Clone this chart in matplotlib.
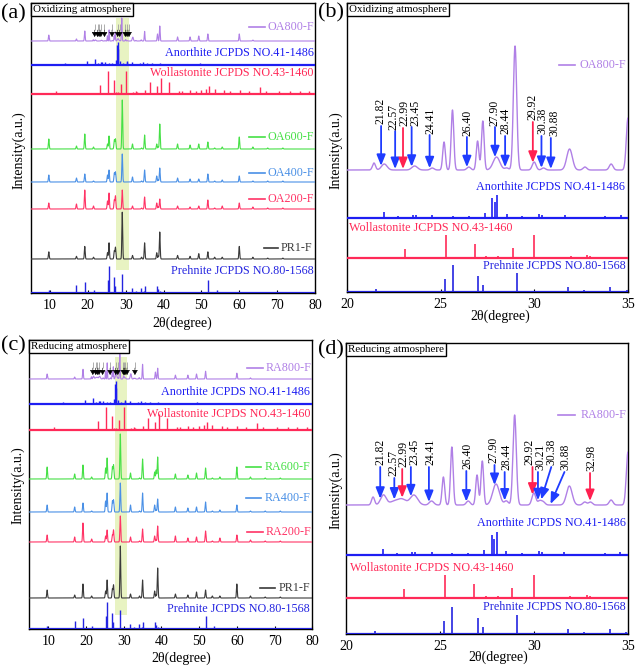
import numpy as np
import matplotlib
matplotlib.use('Agg')
import matplotlib.pyplot as plt

plt.rcParams['font.family'] = ['Liberation Serif', 'DejaVu Serif']

# ---------------- data ----------------
# reference stick patterns (2theta, height)
ANORTHITE_POS = [13.9, 19.7, 21.98, 22.72, 23.52, 23.66, 24.55, 25.66, 26.5, 27.35, 27.76, 27.89, 28.03,
                 28.53, 29.36, 30.25, 30.43, 31.62, 33.76, 34.6, 35.7, 36.9, 39.0, 42.0, 44.0, 46.0, 49.5, 53.0]
ANORTHITE_INT = [2, 4, 6, 2, 3.5, 3, 3.5, 2, 2, 5, 20, 16, 23, 4, 2, 4.5, 3, 3, 2, 3, 2, 2, 2, 1.5, 1.5, 1.5, 2, 1]

WOLLASTONITE_POS = [11.6, 23.11, 25.27, 26.82, 27.44, 28.08, 28.85, 29.38, 29.98, 31.94, 32.83, 32.96, 35.2,
                    36.4, 38.4, 39.3, 41.5, 44.0, 45.0, 47.0, 48.5, 50.0, 51.3, 52.1, 53.5, 56.0, 57.5, 60.1,
                    62.5, 65.4, 67.0, 70.6, 73.5, 76.0, 78.5]
WOLLASTONITE_INT = [3, 9, 23, 14, 2, 2, 10, 1, 23, 2, 3, 2, 4, 12, 8, 16, 12, 3, 3, 4, 3, 4, 5, 8, 5, 4, 3,
                    4, 3, 7, 3, 3, 3, 3, 3]

PREHNITE_POS = [9.7, 17.0, 19.2, 21.56, 25.21, 25.66, 27.0, 27.27, 29.09, 31.8, 32.64, 34.06, 34.92, 35.1,
                38.2, 38.5, 39.0, 43.7, 47.0, 51.7, 54.0, 56.5, 60.0, 64.0, 68.0, 70.0, 73.0]
PREHNITE_INT = [3, 8, 11, 3.3, 13, 27, 15.7, 6.7, 19, 5, 1.7, 5, 1.7, 7, 7, 4, 2, 1, 1.5, 13, 3, 1, 1, 1,
                1.5, 1, 1]

# measured patterns, common peak positions
SAMPLE_POS = [9.7, 17.0, 19.2, 21.5, 25.2, 25.6, 27.0, 27.3, 29.1, 31.8, 34.2, 35.0, 38.2, 38.6, 39.0,
              43.7, 47.0, 49.3, 51.7, 53.5, 55.5, 60.0, 63.6, 67.5, 71.5]
PR1_INT = [8, 3, 14, 2, 7, 18, 9, 13, 52, 4, 2, 18, 7, 3, 30, 4, 3, 6, 8, 2, 2, 14, 2, 1, 1]
OA200_INT = [6, 5, 19, 3, 8, 16, 9, 13, 19, 3, 1, 12, 6, 2, 10, 3, 2, 3, 9, 1, 3, 6, 2, 1, 1]
OA400_INT = [7, 4, 8, 1, 7, 12, 9, 10, 28, 5, 1, 12, 6, 2, 14, 4, 3, 3, 8, 1, 2, 6, 1, 1, 1]
OA600_INT = [10, 3, 15, 2, 5, 13, 9, 10, 49, 5, 1, 14, 5, 2, 25, 5, 4, 5, 7, 1, 2, 12, 2, 1, 1]
RA200_INT = [7, 5, 19, 3, 6, 12, 7, 12, 26, 5, 1, 13, 6, 2, 16, 6, 4, 5, 11, 1, 4, 7, 2, 1, 1]
RA400_INT = [7, 5, 9, 1, 11, 19, 11, 12, 29, 7, 1, 19, 7, 2, 13, 5, 4, 5, 10, 1, 2, 7, 1, 1, 1]
RA600_INT = [12, 5, 14, 2, 11, 21, 12, 14, 45, 6, 1, 20, 7, 9, 22, 5, 4, 6, 11, 1, 2, 12, 2, 1, 1]

# 800 °C samples (heights on the zoomed-panel scale)
OA800_POS = [9.7, 17.0, 19.2, 21.44, 21.99, 23.61, 24.55, 25.18, 25.63, 26.5, 26.97, 27.25, 27.98, 28.53,
             28.97, 29.99, 30.49, 31.88, 32.7, 34.1, 35.0, 38.4, 39.0, 43.7, 47.0, 49.3, 51.7, 60.0, 63.6]
OA800_INT = [32, 11, 54, 7, 6, 4, 2, 28, 60, 3, 29, 49, 13, 2, 124, 8, 2, 21, 3, 6, 52, 38, 81, 22, 22,
             27, 38, 38, 5]
OA800_WID = [0.1, 0.1, 0.1, 0.08, 0.15, 0.15, 0.1, 0.07, 0.07, 0.1, 0.07, 0.07, 0.18, 0.1, 0.09, 0.1,
             0.1, 0.15, 0.1, 0.1, 0.09, 0.1, 0.1, 0.1, 0.1, 0.1, 0.1, 0.1, 0.1]

RA800_POS = [9.7, 17.0, 19.2, 21.44, 21.99, 22.6, 23.0, 23.61, 24.55, 25.18, 25.63, 26.5, 26.97, 27.25,
             27.98, 28.53, 28.97, 29.99, 30.3, 30.49, 31.88, 32.7, 33.0, 34.1, 35.0, 38.4, 39.0, 43.7,
             47.0, 49.3, 51.7, 60.0, 63.6]
RA800_INT = [18, 7, 35, 8, 10, 4, 5, 10, 4, 28, 58, 4, 30, 44, 21, 4, 90, 12, 4, 3, 19, 3, 3, 5, 53, 25,
             39, 14, 14, 18, 28, 21, 4]
RA800_WID = [0.1, 0.1, 0.1, 0.08, 0.15, 0.25, 0.2, 0.2, 0.12, 0.07, 0.07, 0.1, 0.07, 0.07, 0.18, 0.1,
             0.09, 0.1, 0.1, 0.1, 0.15, 0.1, 0.1, 0.1, 0.09, 0.1, 0.1, 0.1, 0.1, 0.1, 0.1, 0.1, 0.1]

# arrow annotations (A = anorthite, W = wollastonite)
OX_ARROW_POS = [21.82, 22.57, 22.99, 23.45, 24.41, 26.40, 27.90, 28.44, 29.92, 30.38, 30.88]
OX_ARROW_PHASE = ['A', 'A', 'W', 'A', 'A', 'A', 'A', 'A', 'W', 'A', 'A']
OX_ARROW_TAIL = [44, 39, 42, 43, 35, 33, 43, 34, 48, 34, 32]
OX_ARROW_TAILX = [21.82, 22.57, 22.99, 23.45, 24.41, 26.40, 27.90, 28.44, 29.92, 30.38, 30.88]
OX_LABEL_X = [21.80, 22.50, 23.06, 23.63, 24.48, 26.42, 27.88, 28.48, 29.92, 30.45, 31.05]

RD_ARROW_POS = [21.82, 22.57, 22.99, 23.45, 24.41, 26.40, 27.90, 28.44, 29.92, 30.21, 30.38, 30.88, 32.98]
RD_ARROW_PHASE = ['A', 'A', 'W', 'A', 'A', 'A', 'A', 'A', 'W', 'A', 'A', 'A', 'W']
RD_ARROW_TAIL = [38, 27, 36, 38, 38, 34, 40, 33, 38, 33, 38, 33, 32]
RD_ARROW_TAILX = [21.82, 22.57, 22.99, 23.45, 24.41, 26.40, 27.90, 28.44, 29.92, 30.21, 30.92, 31.62, 32.98]
RD_LABEL_X = [21.84, 22.52, 23.07, 23.64, 24.50, 26.45, 27.86, 28.52, 29.76, 30.33, 30.90, 31.66, 33.06]

# ---------------- styles ----------------
C_800 = '#b080e6'
C_AN = '#1e1ef2'
C_WO = '#ff2a58'
C_600 = '#46e046'
C_400 = '#4a90e6'
C_200 = '#ff3466'
C_PR1 = '#3a3a3a'
C_PRE = '#2424e0'
C_BAND = '#e8f3c2'
ARROW_C = {'A': '#1f3cff', 'W': '#ff2050'}

W, H = 638, 667
fig = plt.figure(figsize=(W / 100, H / 100), dpi=100)


def rect(l, t, r, b):
    return [l / W, 1 - b / H, (r - l) / W, (b - t) / H]


X = np.arange(5, 80.0001, 0.005)


def profile(pos, hts, wid=None, scale=1.0):
    y = np.zeros_like(X)
    if wid is None:
        wid = [0.11] * len(pos)
    for p, h, w in zip(pos, hts, wid):
        y += h * scale * np.exp(-0.5 * ((X - p) / w) ** 2)
    return y


def trace(ax, pos, hts, base, color, wid=None, scale=1.0, lw=0.8):
    y = profile(pos, hts, wid, scale)
    ax.plot(X, y + base, color=color, lw=lw, zorder=3)
    return y


def sticks(ax, pos, hts, base, color, xlim, lw=1.0):
    p = np.array(pos)
    h = np.array(hts, dtype=float)
    m = (p >= xlim[0]) & (p <= xlim[1])
    ax.plot(xlim, [base, base], color=color, lw=1.6, zorder=3)
    ax.vlines(p[m], base, base + h[m], color=color, lw=lw, zorder=3)


def frame(ax, xlim, ylim, ticks):
    ax.set_xlim(*xlim)
    ax.set_ylim(*ylim)
    ax.set_yticks([])
    ax.set_xticks(ticks)
    ax.tick_params(axis='x', direction='in', length=2.5, width=0.8, labelsize=10, pad=4)
    for s in ax.spines.values():
        s.set_linewidth(1.0)


def title_box(ax, txt):
    ax.text(0.006, 0.993, txt, transform=ax.transAxes, ha='left', va='top', fontsize=7.9,
            zorder=10, bbox=dict(boxstyle='square,pad=0.18', fc='white', ec='black', lw=1.0))


def leg_line(ax, x0, x1, xt, y, color, text):
    ax.plot([x0, x1], [y, y], color=color, lw=1.2, zorder=4)
    ax.text(xt, y, text, color=color, fontsize=8.7, ha='left', va='center', zorder=5)


def small_arrows(ax, pos, base):
    p = np.array(pos)
    ax.vlines(p, base + 11, base + 17, color='#a0a0a0', lw=0.6, zorder=5)
    for x in pos:
        ax.annotate('', xy=(x, base + 4), xytext=(x, base + 11),
                    arrowprops=dict(arrowstyle='-|>,head_width=0.35,head_length=0.6', color='black',
                                    lw=0.4, shrinkA=0, shrinkB=0, mutation_scale=5), zorder=6)


def big_arrows(ax, pos, tailx, tails, labx, phases, base, prof):
    for p, tx, t, lx, ph in zip(pos, tailx, tails, labx, phases):
        tip = np.interp(p, X, prof) + 1.0
        ax.annotate('', xy=(p, base + tip), xytext=(tx, base + t),
                    arrowprops=dict(arrowstyle='-|>,head_width=0.22,head_length=0.55',
                                    color=ARROW_C[ph], lw=1.3, shrinkA=0, shrinkB=0,
                                    mutation_scale=12), zorder=6)
        ax.text(lx, base + t + 1.5, f'{p:.2f}', rotation=90, fontsize=8.4, ha='center',
                va='bottom', zorder=6)


# ---------------- panel (a) ----------------
axa = fig.add_axes(rect(31, 3, 315, 293))
XL = (5, 80)
frame(axa, XL, (0, 290), [10, 20, 30, 40, 50, 60, 70, 80])
axa.axvspan(27.43, 30.87, ymin=0.079, ymax=0.948, color=C_BAND, lw=0, zorder=0)
sticks(axa, PREHNITE_POS, PREHNITE_INT, 0, C_PRE, XL)
trace(axa, SAMPLE_POS, PR1_INT, 34, C_PR1, scale=0.9)
trace(axa, SAMPLE_POS, OA200_INT, 84, C_200)
trace(axa, SAMPLE_POS, OA400_INT, 111, C_400)
trace(axa, SAMPLE_POS, OA600_INT, 144, C_600)
sticks(axa, WOLLASTONITE_POS, WOLLASTONITE_INT, 199, C_WO, XL)
sticks(axa, ANORTHITE_POS, ANORTHITE_INT, 228, C_AN, XL)
trace(axa, OA800_POS, OA800_INT, 252, C_800, OA800_WID, scale=1 / 5.4)
small_arrows(axa, OX_ARROW_POS, 252)
title_box(axa, 'Oxidizing atmosphere')
leg_line(axa, 62.6, 66.8, 67.5, 266, C_800, 'OA800-F')
axa.text(79.6, 240, 'Anorthite JCPDS NO.41-1486', color=C_AN, fontsize=8.7, ha='right', va='center')
axa.text(79.6, 220, 'Wollastonite JCPDS NO.43-1460', color=C_WO, fontsize=8.7, ha='right', va='center')
leg_line(axa, 62.6, 66.8, 67.5, 156, C_600, 'OA600-F')
leg_line(axa, 62.6, 66.8, 67.5, 120, C_400, 'OA400-F')
leg_line(axa, 62.6, 66.8, 67.5, 94, C_200, 'OA200-F')
leg_line(axa, 66.5, 70.2, 71.0, 45, C_PR1, 'PR1-F')
axa.text(79.6, 22, 'Prehnite JCPDS NO.80-1568', color=C_PRE, fontsize=8.7, ha='right', va='center')

# ---------------- panel (b) ----------------
axb = fig.add_axes(rect(347, 3, 628, 292))
XB = (20, 35)
frame(axb, XB, (0, 289), [20, 25, 30, 35])
sticks(axb, PREHNITE_POS, PREHNITE_INT, 0, C_PRE, XB, lw=1.2)
sticks(axb, WOLLASTONITE_POS, WOLLASTONITE_INT, 34, C_WO, XB, lw=1.2)
sticks(axb, ANORTHITE_POS, ANORTHITE_INT, 74, C_AN, XB, lw=1.2)
pb = trace(axb, OA800_POS, OA800_INT, 122, C_800, OA800_WID, lw=1.0)
big_arrows(axb, OX_ARROW_POS, OX_ARROW_TAILX, OX_ARROW_TAIL, OX_LABEL_X, OX_ARROW_PHASE, 122, pb)
title_box(axb, 'Oxidizing atmosphere')
leg_line(axb, 31.32, 32.17, 32.4, 227, C_800, 'OA800-F')
axb.text(34.85, 105, 'Anorthite JCPDS NO.41-1486', color=C_AN, fontsize=8.7, ha='right', va='center')
axb.text(20.1, 64, 'Wollastonite JCPDS NO.43-1460', color=C_WO, fontsize=8.7, ha='left', va='center')
axb.text(34.9, 26, 'Prehnite JCPDS NO.80-1568', color=C_PRE, fontsize=8.7, ha='right', va='center')

# ---------------- panel (c) ----------------
axc = fig.add_axes(rect(29.4, 340, 312.3, 629))
frame(axc, XL, (0, 289), [10, 20, 30, 40, 50, 60, 70, 80])
axc.axvspan(27.7, 30.95, ymin=0.048, ymax=0.941, color=C_BAND, lw=0, zorder=0)
sticks(axc, PREHNITE_POS, PREHNITE_INT, 0, C_PRE, XL)
trace(axc, SAMPLE_POS, PR1_INT, 31, C_PR1)
trace(axc, SAMPLE_POS, RA200_INT, 87, C_200)
trace(axc, SAMPLE_POS, RA400_INT, 117, C_400)
trace(axc, SAMPLE_POS, RA600_INT, 150, C_600)
sticks(axc, WOLLASTONITE_POS, WOLLASTONITE_INT, 199, C_WO, XL)
sticks(axc, ANORTHITE_POS, ANORTHITE_INT, 225, C_AN, XL)
trace(axc, RA800_POS, RA800_INT, 250, C_800, RA800_WID, scale=1 / 3.6)
small_arrows(axc, RD_ARROW_POS, 250)
title_box(axc, 'Reducing atmosphere')
leg_line(axc, 62.6, 66.8, 67.5, 261, C_800, 'RA800-F')
axc.text(79.4, 237, 'Anorthite JCPDS NO.41-1486', color=C_AN, fontsize=8.7, ha='right', va='center')
axc.text(79.4, 215, 'Wollastonite JCPDS NO.43-1460', color=C_WO, fontsize=8.7, ha='right', va='center')
leg_line(axc, 62.3, 66.3, 67.3, 162, C_600, 'RA600-F')
leg_line(axc, 62.3, 66.3, 67.3, 131, C_400, 'RA400-F')
leg_line(axc, 62.6, 66.8, 67.5, 97, C_200, 'RA200-F')
leg_line(axc, 66.2, 70.2, 71.0, 41, C_PR1, 'PR1-F')
axc.text(79.4, 20, 'Prehnite JCPDS NO.80-1568', color=C_PRE, fontsize=8.7, ha='right', va='center')

# ---------------- panel (d) ----------------
axd = fig.add_axes(rect(346, 343, 628, 634))
frame(axd, XB, (0, 291), [20, 25, 30, 35])
sticks(axd, PREHNITE_POS, PREHNITE_INT, 0, C_PRE, XB, lw=1.2)
sticks(axd, WOLLASTONITE_POS, WOLLASTONITE_INT, 36, C_WO, XB, lw=1.2)
sticks(axd, ANORTHITE_POS, ANORTHITE_INT, 79, C_AN, XB, lw=1.2)
pd_ = trace(axd, RA800_POS, RA800_INT, 129, C_800, RA800_WID, lw=1.0)
big_arrows(axd, RD_ARROW_POS, RD_ARROW_TAILX, RD_ARROW_TAIL, RD_LABEL_X, RD_ARROW_PHASE, 129, pd_)
title_box(axd, 'Reducing atmosphere')
leg_line(axd, 31.3, 32.2, 32.5, 219, C_800, 'RA800-F')
axd.text(34.9, 111, 'Anorthite JCPDS NO.41-1486', color=C_AN, fontsize=8.7, ha='right', va='center')
axd.text(20.2, 66, 'Wollastonite JCPDS NO.43-1460', color=C_WO, fontsize=8.7, ha='left', va='center')
axd.text(34.9, 27, 'Prehnite JCPDS NO.80-1568', color=C_PRE, fontsize=8.7, ha='right', va='center')

# ---------------- figure texts ----------------
def ftext(x, y, s, **kw):
    fig.text(x / W, 1 - y / H, s, **kw)

for (x, y, s) in [(1, 14, '(a)'), (318, 13, '(b)'), (1, 346, '(c)'), (318, 350, '(d)')]:
    ftext(x, y, s, fontsize=16, ha='left', va='center')
for (x, y) in [(19, 150), (336, 150), (18, 485), (336, 490)]:
    ftext(x, y, 'Intensity(a.u.)', fontsize=10, rotation=90, ha='center', va='center')
for (x, y) in [(182, 323), (500, 316), (181, 658), (498, 657)]:
    ftext(x, y, '2θ(degree)', fontsize=10, ha='center', va='center')

fig.savefig('out.png', dpi=100)
